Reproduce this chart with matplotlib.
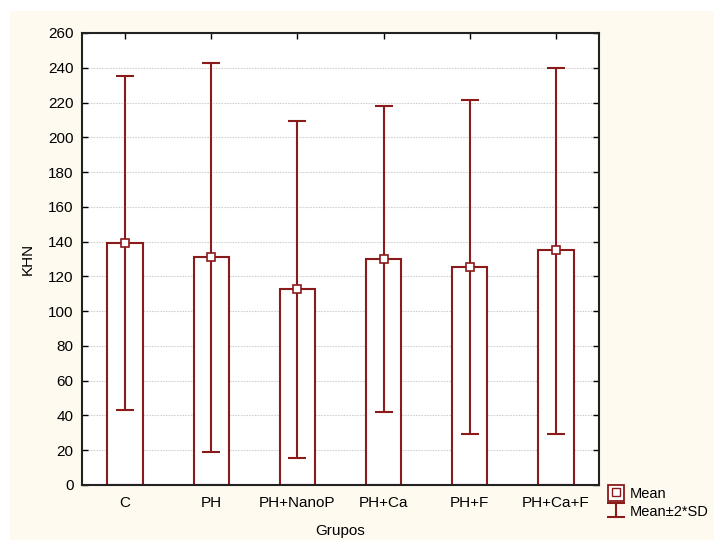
import matplotlib
matplotlib.use("Agg")
import matplotlib.pyplot as plt
from matplotlib.patches import Rectangle
from matplotlib.lines import Line2D
from matplotlib.legend_handler import HandlerTuple

groups = ["C", "PH", "PH+NanoP", "PH+Ca", "PH+F", "PH+Ca+F"]
means = [139, 131, 112.5, 130, 125.5, 135]
upper = [235, 243, 209.5, 218, 221.5, 240]
lower = [43, 19, 15.5, 42, 29.5, 29.5]
yticks = list(range(0, 261, 20))

red = "#8b1a1a"
cream = "#fefaf0"

plt.rcParams["font.family"] = ["Liberation Sans", "DejaVu Sans"]
plt.rcParams["font.size"] = 11

fig = plt.figure(figsize=(7.14, 5.4), dpi=100, facecolor="white")
fig.patches.append(Rectangle((10 / 714, 0), 1, 1 - 11 / 540, transform=fig.transFigure,
                             facecolor=cream, edgecolor="none", zorder=-10))
ax = fig.add_axes([82 / 714, 1 - 485 / 540, 517 / 714, 452 / 540])
ax.set_facecolor("white")

x = list(range(len(groups)))
ax.bar(x, means, width=0.41, facecolor="white", edgecolor=red, linewidth=1.5, zorder=2)
yerr = [[m - l for m, l in zip(means, lower)], [u - m for m, u in zip(means, upper)]]
eb = ax.errorbar(x, means, yerr=yerr, fmt="none", ecolor=red, elinewidth=1.5,
                 capsize=6.5, capthick=1.5, zorder=3)
ax.plot(x, means, "s", color="white", markeredgecolor=red, markersize=6,
        markeredgewidth=1.2, linestyle="none", zorder=4)

ax.set_xlim(-0.5, len(groups) - 0.5)
ax.set_ylim(0, 260)
ax.set_xticks(x)
ax.set_xticklabels(groups)
ax.set_yticks(yticks)
ax.tick_params(direction="in", top=True, right=True, length=4, width=1,
               labeltop=False, labelright=False, pad=8)
ax.tick_params(axis="y", pad=6)
ax.yaxis.grid(True, color="#d2d2d2", linestyle=(0, (1.5, 1)), linewidth=0.8, zorder=0)
ax.set_axisbelow(True)
for s in ax.spines.values():
    s.set_linewidth(1.5)
    s.set_color("#222222")

ax.set_ylabel("KHN", labelpad=10)
ax.set_xlabel("Grupos", labelpad=10)

box = Rectangle((0, 0), 1, 1, facecolor="white", edgecolor=red, linewidth=1.3)
inner = Line2D([], [], marker="s", color="white", markeredgecolor=red,
               markersize=6, markeredgewidth=1, linestyle="none")
leg = fig.legend([(box, inner), eb], ["Mean", "Mean\u00b12*SD"],
                 handler_map={tuple: HandlerTuple(ndivide=1)},
                 loc="upper left", bbox_to_anchor=(598 / 714, 1 - 475 / 540),
                 frameon=False, handlelength=1.1, handleheight=1.25,
                 handletextpad=0.35, labelspacing=0.2, borderpad=0.2,
                 fontsize=10.5)

fig.savefig("out.png", dpi=100, facecolor=fig.get_facecolor())
